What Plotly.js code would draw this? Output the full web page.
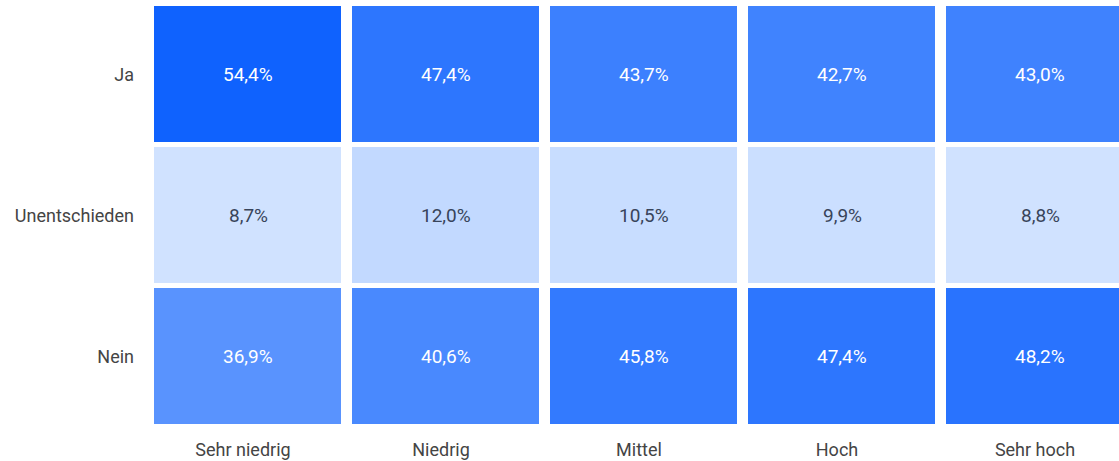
<!DOCTYPE html>
<html><head><meta charset="utf-8">
<script src="https://cdn.plot.ly/plotly-3.0.1.min.js"></script>
<style>html,body{margin:0;padding:0;overflow:hidden;background:#fff}#c{width:1140px;height:461px}</style>
</head><body><div id="c"></div>
<script>
const columns = ["Sehr niedrig", "Niedrig", "Mittel", "Hoch", "Sehr hoch"];
const rows = ["Ja", "Unentschieden", "Nein"];
const ja = [54.4, 47.4, 43.7, 42.7, 43.0];
const unentschieden = [8.7, 12.0, 10.5, 9.9, 8.8];
const nein = [36.9, 40.6, 45.8, 47.4, 48.2];

const z = [ja, unentschieden, nein];
const annotations = [];
rows.forEach((r, i) => {
  columns.forEach((c, j) => {
    const v = z[i][j];
    annotations.push({
      x: c, y: r, xref: 'x', yref: 'y', showarrow: false,
      text: v.toFixed(1).replace('.', ',') + '%',
      font: {family: 'Roboto, sans-serif', size: 19, color: v < 20 ? '#38445a' : '#ffffff'}
    });
  });
});

Plotly.newPlot('c', [{
  type: 'heatmap',
  x: columns, y: rows, z: z,
  colorscale: [[0, '#d0e2ff'], [1, '#0f62fe']],
  showscale: false, xgap: 11, ygap: 5, hoverinfo: 'skip'
}], {
  width: 1140, height: 461,
  margin: {l: 149, r: 1, t: 4, b: 34},
  paper_bgcolor: '#ffffff', plot_bgcolor: '#ffffff',
  font: {family: 'Roboto, sans-serif', size: 18, color: '#444444'},
  xaxis: {showgrid: false, zeroline: false, ticks: '', ticklabelstandoff: 10, ticklabelshift: -5},
  yaxis: {showgrid: false, zeroline: false, ticks: '', autorange: 'reversed', ticklabelstandoff: 14},
  annotations: annotations
}, {displayModeBar: false, staticPlot: true});
</script></body></html>
